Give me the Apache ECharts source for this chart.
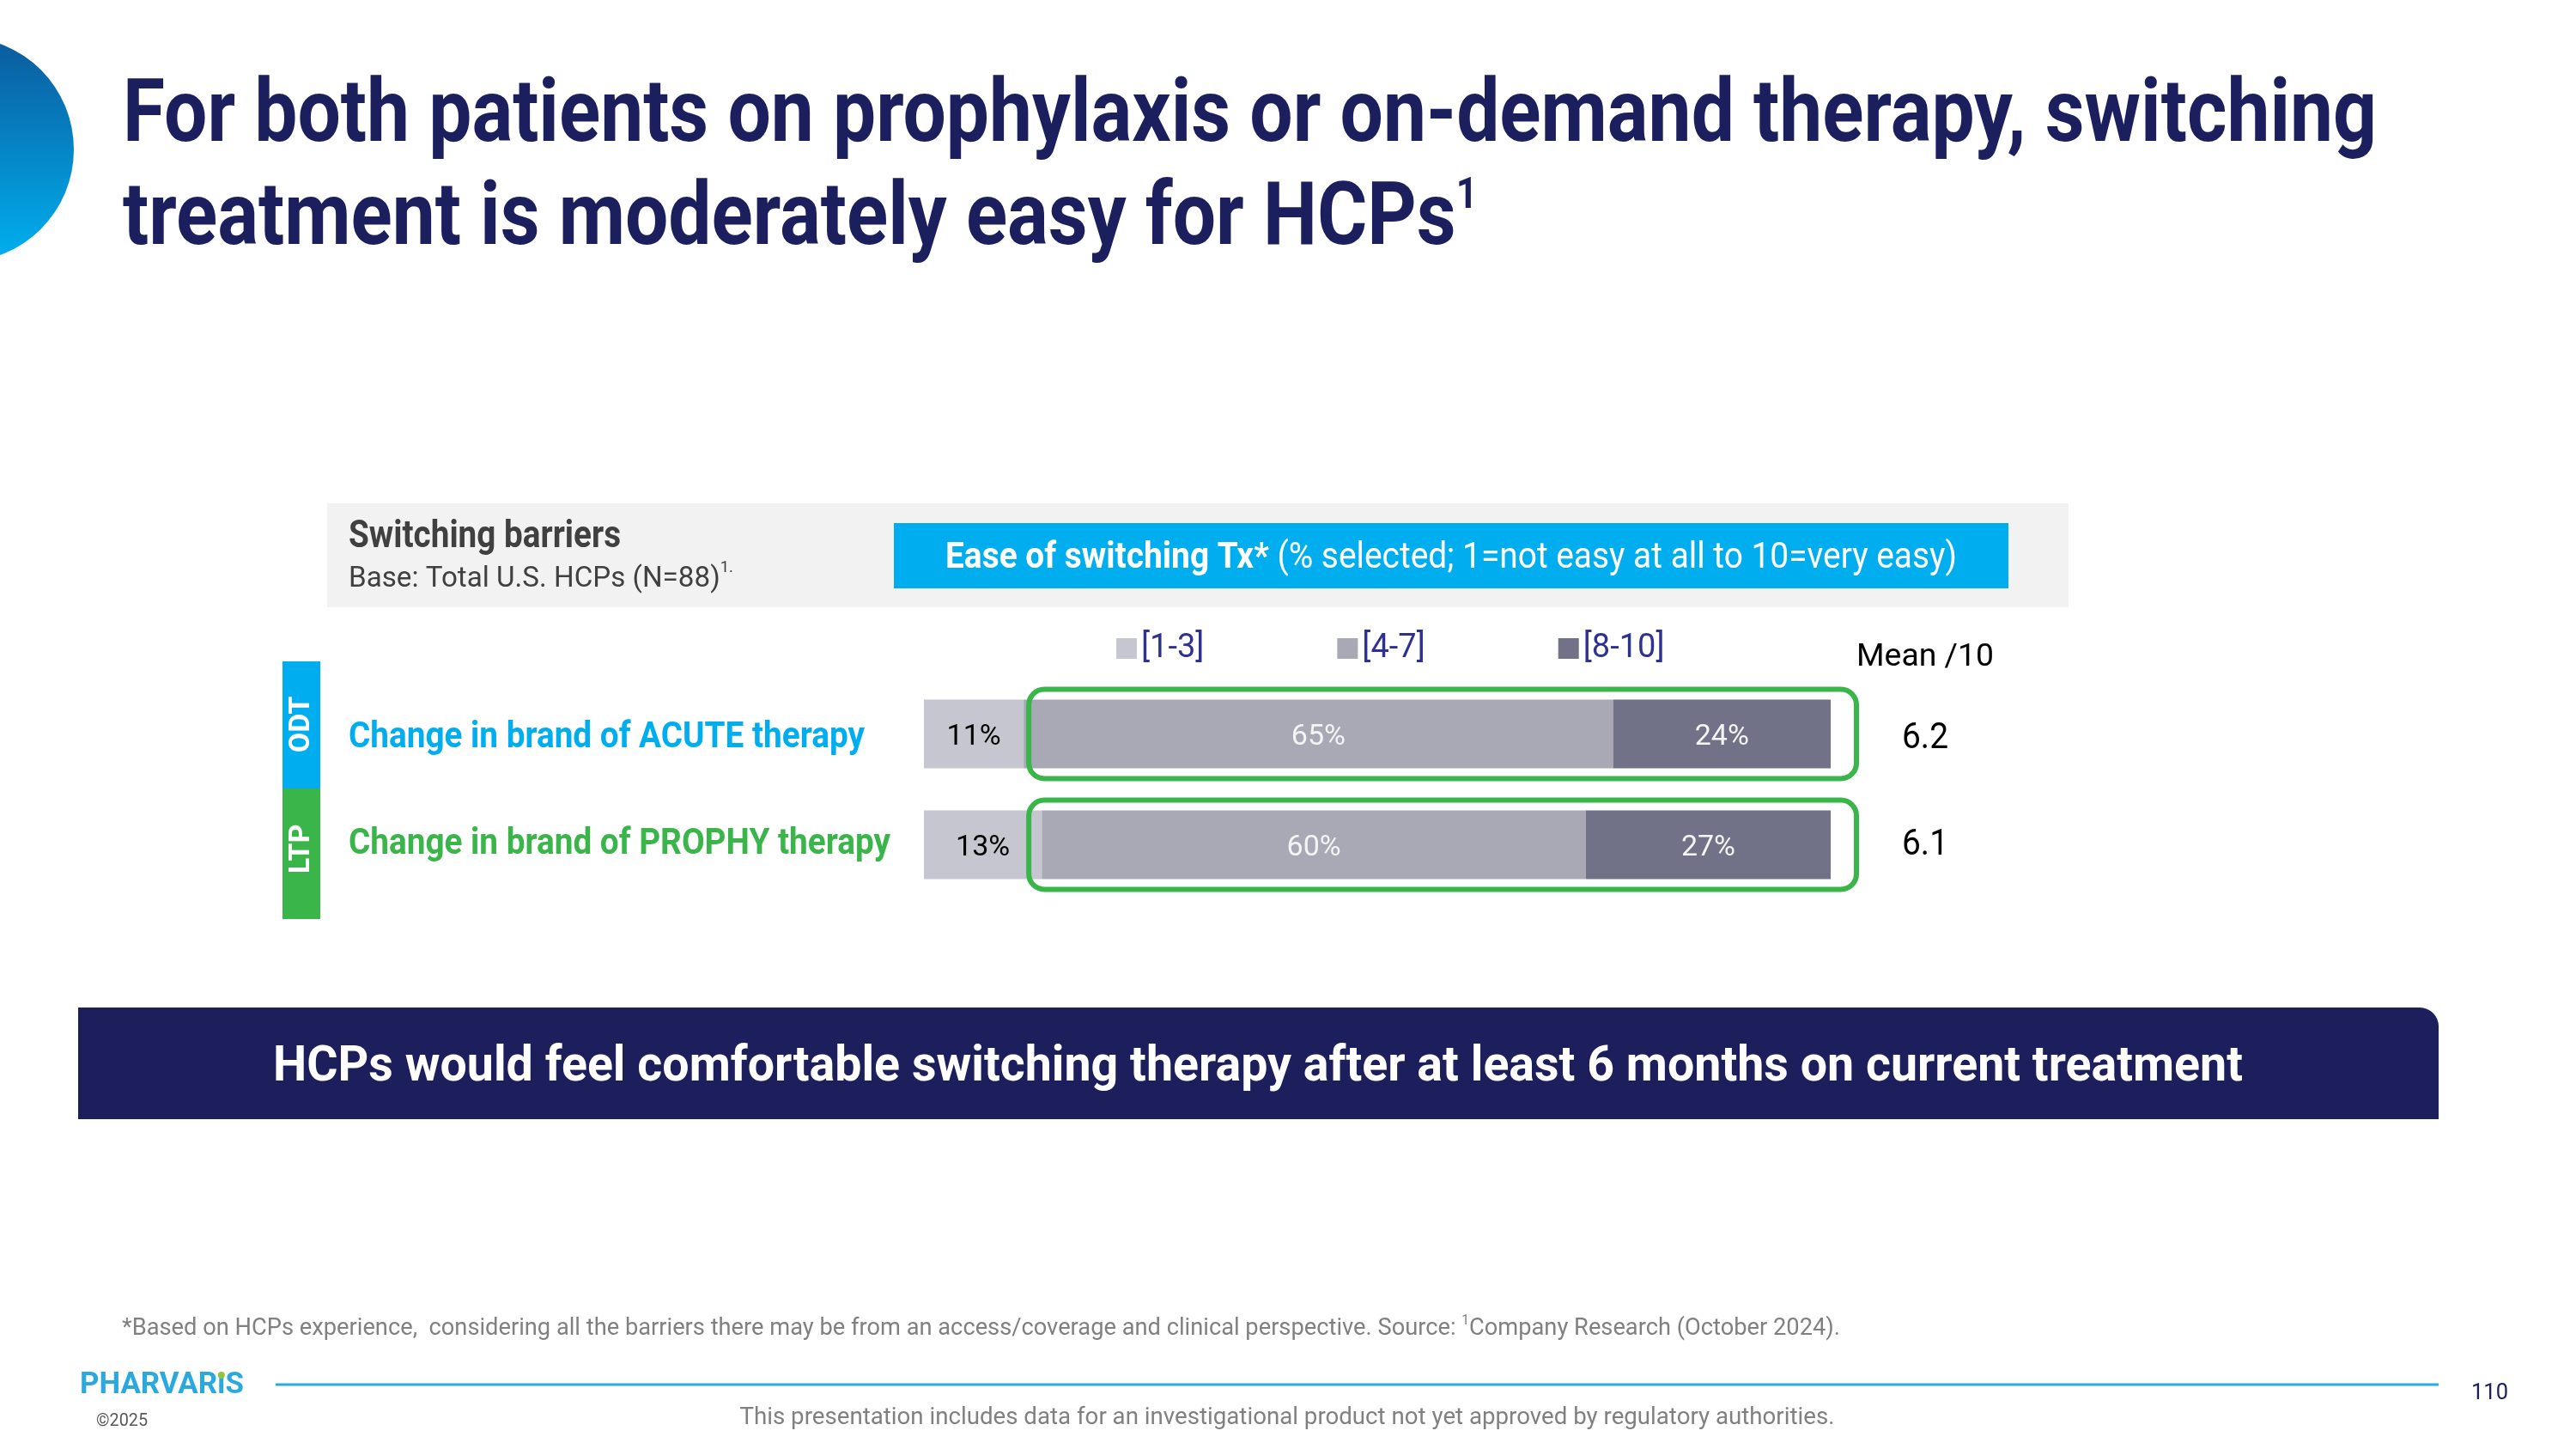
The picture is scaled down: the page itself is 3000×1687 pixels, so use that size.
<!DOCTYPE html>
<html>
<head>
<meta charset="utf-8">
<script src="https://cdn.jsdelivr.net/npm/echarts@6/dist/echarts.min.js"></script>
<style>
html,body{margin:0;padding:0;background:#ffffff;}
#chart{width:3000px;height:1687px;}
</style>
</head>
<body>
<div id="chart"></div>
<script>
// ---------------- data ----------------
const categories = ['Change in brand of ACUTE therapy', 'Change in brand of PROPHY therapy'];
const groupTags = ['ODT', 'LTP'];
const seriesNames = ['[1-3]', '[4-7]', '[8-10]'];
const lowShare = [11, 13];   // [1-3]
const midShare = [65, 60];   // [4-7]
const highShare = [24, 27];  // [8-10]
const meanScores = [6.2, 6.1];

const titleLines = ['For both patients on prophylaxis or on-demand therapy, switching', 'treatment is moderately easy for HCPs'];
const bannerText = 'HCPs would feel comfortable switching therapy after at least 6 months on current treatment';

// ---------------- helpers ----------------
const FONT = 'Roboto';
const NAVY = '#1B1F5E';
const CYAN = '#00AEEF';
const GREEN = '#39B54A';
const mctx = document.createElement('canvas').getContext('2d');
function measure(t, size, weight) {
  mctx.font = (weight || 'normal') + ' ' + size + 'px ' + FONT;
  return mctx.measureText(t).width;
}
// y is the middle of the capitals; 'middle' alignment sits ~0.1em above that
function textEl(x, y, t, size, weight, color, align, k, extra, noCorr) {
  return Object.assign({
    type: 'text', x: x, y: noCorr ? y : y + 0.1 * size, scaleX: k || 1, z: 30, silent: true,
    style: {
      text: t, fontSize: size, fontWeight: weight || 'normal', fontFamily: FONT, fill: color,
      align: align || 'left', verticalAlign: 'middle', textAlign: align || 'left', textVerticalAlign: 'middle'
    }
  }, extra || {});
}
// sequential run of text segments fitted to a target width
function run(segs, x, y, align, target, kForce) {
  const ws = segs.map(s => measure(s.t, s.size, s.weight));
  const total = ws.reduce((a, b) => a + b, 0);
  const k = kForce || (target ? target / total : 1);
  let cx = align === 'center' ? x - total * k / 2 : (align === 'right' ? x - total * k : x);
  const els = [];
  segs.forEach((s, i) => {
    els.push(textEl(cx, y + (s.dy || 0), s.t, s.size, s.weight, s.color, 'left', k));
    cx += ws[i] * k;
  });
  return { els: els, k: k, end: cx };
}

// ---------------- chart ----------------
const chart = echarts.init(document.getElementById('chart'), null, { renderer: 'canvas', width: 3000, height: 1687 });

const labelBase = { show: true, position: 'inside', formatter: '{c}%', fontSize: 34, fontFamily: FONT, offset: [0, 3.5] };
const option = {
  animation: false,
  backgroundColor: '#ffffff',
  textStyle: { fontFamily: FONT },
  grid: { left: 1076, width: 1056, top: 790, height: 258, containLabel: false },
  xAxis: { type: 'value', min: 0, max: 100, show: false },
  yAxis: { type: 'category', data: categories, inverse: true, show: false },
  legend: {
    data: seriesNames, left: 1295, top: 731, itemWidth: 24, itemHeight: 24, itemGap: 155,
    icon: 'rect', selectedMode: false,
    textStyle: { fontSize: 38, color: '#2E3192', fontFamily: FONT }
  },
  series: [
    { name: seriesNames[0], type: 'bar', stack: 'ease', data: lowShare, barWidth: 80,
      itemStyle: { color: '#C6C6D0' }, label: Object.assign({}, labelBase, { color: '#000000' }) },
    { name: seriesNames[1], type: 'bar', stack: 'ease', data: midShare, barWidth: 80,
      itemStyle: { color: '#A9A9B6' }, label: Object.assign({}, labelBase, { color: '#F4F4F4' }) },
    { name: seriesNames[2], type: 'bar', stack: 'ease', data: highShare, barWidth: 80,
      itemStyle: { color: '#717287' }, label: Object.assign({}, labelBase, { color: '#F4F4F4' }) }
  ]
};
chart.setOption(option);

// ---------------- annotations ----------------
const px = v => chart.convertToPixel({ xAxisIndex: 0 }, v);
const py = c => chart.convertToPixel({ yAxisIndex: 0 }, c);

const g = [];
// decorative arc at left
g.push({ type: 'circle', z: 5, silent: true, shape: { cx: -45, cy: 174, r: 131 },
  style: { fill: new echarts.graphic.LinearGradient(0, 0, 0, 1, [{ offset: 0, color: '#0B5A9C' }, { offset: 1, color: '#00B0F0' }]) } });

// title
const t1 = run([{ t: titleLines[0], size: 102, weight: 'bold', color: NAVY }], 143, 128, 'left', 2625);
g.push(...t1.els);
const t2 = run([{ t: titleLines[1], size: 102, weight: 'bold', color: NAVY }, { t: '1', size: 50, weight: 'bold', color: NAVY, dy: -24 }], 143, 248, 'left', null, t1.k);
g.push(...t2.els);

// header band
g.push({ type: 'rect', z: 5, silent: true, shape: { x: 381, y: 586, width: 2028, height: 121 }, style: { fill: '#F2F2F2' } });
g.push(...run([{ t: 'Switching barriers', size: 44, weight: 'bold', color: '#404040' }], 406, 622, 'left', 317).els);
g.push(...run([{ t: 'Base: Total U.S. HCPs (N=88)', size: 34, weight: 'normal', color: '#404040' },
               { t: '1.', size: 19, weight: 'normal', color: '#404040', dy: -12 }], 406, 671, 'left', 448).els);
g.push({ type: 'rect', z: 6, silent: true, shape: { x: 1041, y: 609, width: 1298, height: 76 }, style: { fill: CYAN } });
g.push(...run([{ t: 'Ease of switching Tx*', size: 42, weight: 'bold', color: '#FFFFFF' },
               { t: ' (% selected; 1=not easy at all to 10=very easy)', size: 42, weight: 'normal', color: '#FFFFFF' }], 1690, 646, 'center', 1178).els);

// mean header + mean values (one per category row)
g.push(...run([{ t: 'Mean /10', size: 36, weight: 'normal', color: '#000000' }], 2242, 762, 'center', 160).els);
const meanDy = [2, -3];
meanScores.forEach((m, i) => {
  g.push(...run([{ t: m.toFixed(1), size: 42, weight: 'normal', color: '#000000' }], 2242, py(i) + meanDy[i], 'center', 54).els);
});

// group tags
const tagColors = [CYAN, GREEN];
const tagBoxes = [[770, 148], [918, 152]];
const tagMid = [843.5, 988.5];
groupTags.forEach((tag, i) => {
  g.push({ type: 'rect', z: 6, silent: true, shape: { x: 329, y: tagBoxes[i][0], width: 44, height: tagBoxes[i][1] }, style: { fill: tagColors[i] } });
  g.push(textEl(351, tagMid[i], tag, 34, 'bold', '#FFFFFF', 'center', 1, { rotation: Math.PI / 2 }, true));
});

// category labels
const catTargets = [601, 631];
const catDy = [0, -5];
categories.forEach((c, i) => {
  g.push(...run([{ t: c, size: 43, weight: 'bold', color: tagColors[i] }], 406, py(i) + catDy[i], 'left', catTargets[i]).els);
});

// highlight boxes around [4-7] + [8-10]
const boxLeft = px(Math.min.apply(null, lowShare)) + 6;
const boxRight = px(100) + 30;
categories.forEach((c, i) => {
  const cy = py(i);
  g.push({ type: 'rect', z: 25, silent: true,
    shape: { x: boxLeft, y: cy - 52, width: boxRight - boxLeft, height: 104, r: 18 },
    style: { fill: null, stroke: GREEN, lineWidth: 6 } });
});

// banner
g.push({ type: 'rect', z: 5, silent: true, shape: { x: 91, y: 1173, width: 2749, height: 130, r: [0, 22, 0, 0] }, style: { fill: '#1C1F5C' } });
g.push(...run([{ t: bannerText, size: 58, weight: 'bold', color: '#FFFFFF' }], 1465, 1238, 'center', 2294).els);

// footnote
g.push(...run([
  { t: '*Based on HCPs experience,  considering all the barriers there may be from an access/coverage and clinical perspective. Source: ', size: 28, weight: 'normal', color: '#808080' },
  { t: '1', size: 16, weight: 'normal', color: '#808080', dy: -8 },
  { t: 'Company Research (October 2024).', size: 28, weight: 'normal', color: '#808080' }
], 142, 1544, 'left', 2001).els);

// footer
g.push({ type: 'line', z: 5, silent: true, shape: { x1: 321, y1: 1612, x2: 2840, y2: 1612 }, style: { stroke: '#29ABE2', lineWidth: 3 } });
const logo = run([{ t: 'PHARVARıS', size: 35, weight: 'bold', color: '#29A9E0' }], 93, 1610, 'left', 191);
g.push(...logo.els);
const preW = measure('PHARVAR', 35, 'bold') * logo.k;
const iW = measure('ı', 35, 'bold') * logo.k;
g.push({ type: 'circle', z: 31, silent: true, shape: { cx: 93 + preW + iW / 2, cy: 1601, r: 4 }, style: { fill: '#8CC63F' } });
g.push(...run([{ t: '©2025', size: 20, weight: 'normal', color: '#595959' }], 112, 1653, 'left', 60).els);
g.push(...run([{ t: 'This presentation includes data for an investigational product not yet approved by regulatory authorities.', size: 28, weight: 'normal', color: '#808080' }], 1499, 1648, 'center', 1275).els);
g.push(...run([{ t: '110', size: 26, weight: 'normal', color: NAVY }], 2878, 1620, 'left', 43).els);

chart.setOption({ graphic: { elements: g } });
</script>
</body>
</html>
